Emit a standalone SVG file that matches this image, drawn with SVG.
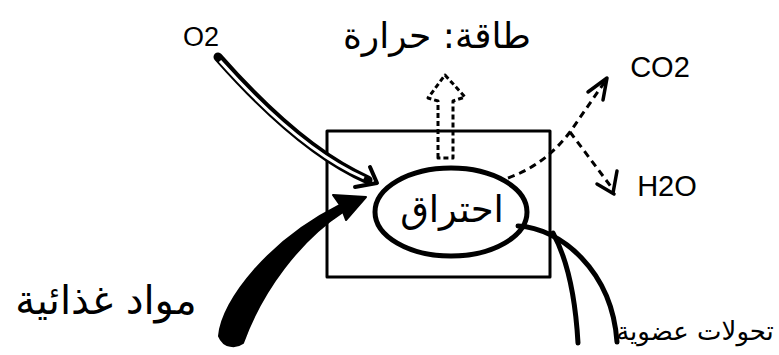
<svg xmlns="http://www.w3.org/2000/svg" width="779" height="355" viewBox="0 0 779 355">
<style>
.ar{font-family:"DejaVu Sans",sans-serif;fill:#000;text-anchor:middle}
.la{font-family:"Liberation Sans",sans-serif;fill:#000;text-anchor:middle}
.ln{fill:none;stroke:#000;stroke-linecap:round;stroke-linejoin:round}
.dash{fill:none;stroke:#000;stroke-width:3;stroke-dasharray:7 5;stroke-linejoin:round}
.dot{fill:none;stroke:#000;stroke-width:3;stroke-dasharray:5 3;stroke-linejoin:round}
.hollow{fill:none;stroke:#fff;stroke-width:3;stroke-linecap:butt}
</style>
<rect width="779" height="355" fill="#fff"/>
<g id="box">
<rect x="327" y="131" width="223" height="146" class="ln" stroke-width="3"/>
</g>
<g id="combustion">
<ellipse cx="451" cy="212" rx="76" ry="44" class="ln" stroke-width="5"/>
<text x="452" y="222" class="ar" font-size="37" direction="rtl">احتراق</text>
</g>
<g id="o2"><text x="201" y="46" class="la" font-size="27">O2</text></g>
<g id="energy"><text x="437" y="48" class="ar" font-size="36" direction="rtl">طاقة: حرارة</text></g>
<g id="co2"><text x="660" y="77" class="la" font-size="29">CO2</text></g>
<g id="h2o"><text x="667" y="196" class="la" font-size="29">H2O</text></g>
<g id="food"><text x="106" y="314" class="ar" font-size="40" direction="rtl">مواد غذائية</text></g>
<g id="organic"><text x="695" y="340" class="ar" font-size="26" direction="rtl">تحولات عضوية</text></g>
<g id="connectors">
<path d="M218,57 Q300,150 368,180" class="ln" stroke-width="9"/>
<path d="M220,61 Q300,150 364,178" class="hollow"/>
<path d="M370,167 L377,183 L355,187" class="ln" stroke-width="4"/>
<path d="M438,158 L438,101 L428,98 L445,75 L465,97 L453,101 L453,158 Z" class="dot"/>
<path d="M508,178 Q545,165 570,132 L606,80" class="dash"/>
<path d="M588,92 L607,78 L603,100" class="ln" stroke-width="3.5"/>
<path d="M570,132 L612,188" class="dash"/>
<path d="M597,184 L614,194 M617,171 L613,193" class="ln" stroke-width="3.5"/>
<path d="M219,336 C222,300 270,240 340,205 L333,195 L366,197 L346,220 L343,212 C300,240 262,290 243,343 C236,348 224,348 219,336 Z" fill="#000" stroke="#000" stroke-width="2" stroke-linejoin="round"/>
<path d="M518,226 C560,228 612,270 617,342" class="ln" stroke-width="5"/>
<path d="M553,233 C565,255 575,290 578,343" class="ln" stroke-width="5"/>
</g>
</svg>
